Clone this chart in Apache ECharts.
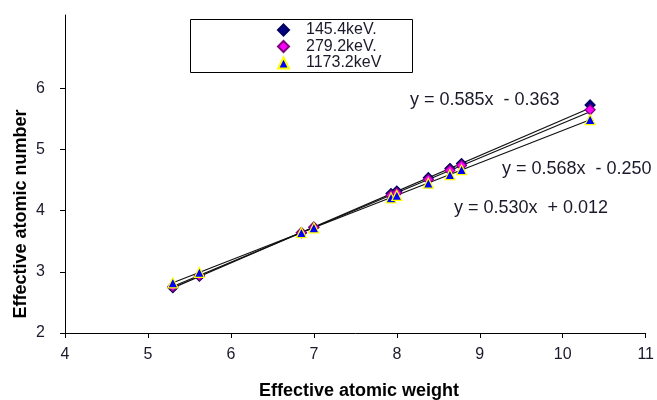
<!DOCTYPE html>
<html>
<head>
<meta charset="utf-8">
<script src="https://cdn.jsdelivr.net/npm/echarts@6/dist/echarts.min.js"></script>
<style>
html,body{margin:0;padding:0;background:#fff;}
#chart{width:657px;height:400px;}
</style>
</head>
<body>
<div id="chart"></div>
<script>
// Data
const seriesNames = ['145.4keV.', '279.2keV.', '1173.2keV'];
const weights = [5.30, 5.62, 6.85, 7.00, 7.93, 8.00, 8.38, 8.64, 8.78, 10.33];
const z145 = [2.74, 2.93, 3.64, 3.73, 4.28, 4.32, 4.54, 4.69, 4.77, 5.73];
const z279 = [2.76, 2.94, 3.64, 3.73, 4.25, 4.29, 4.51, 4.66, 4.74, 5.65];
const z1173 = [2.82, 2.99, 3.64, 3.72, 4.21, 4.25, 4.45, 4.59, 4.67, 5.49];
const slopes = [0.585, 0.568, 0.530];
const intercepts = [-0.363, -0.250, 0.012];
const equations = ['y = 0.585x  - 0.363', 'y = 0.568x  - 0.250', 'y = 0.530x  + 0.012'];
const xTicks = [4, 5, 6, 7, 8, 9, 10, 11];
const yTicks = [2, 3, 4, 5, 6];

const values = [z145, z279, z1173];
const markerSymbols = ['diamond', 'diamond', 'triangle'];
const markerFill = ['#000080', '#FF00FF', '#0000FF'];
const markerBorder = ['#000060', '#800080', '#FFFF00'];
const markerSize = [10, 10, 10];

const chart = echarts.init(document.getElementById('chart'));
const xmin = Math.min(...weights), xmax = Math.max(...weights);

const series = [];
// trendlines
slopes.forEach((a, i) => {
  series.push({
    type: 'line',
    name: 'trend' + i,
    data: [[xmin, a * xmin + intercepts[i]], [xmax, a * xmax + intercepts[i]]],
    symbol: 'none',
    lineStyle: { color: '#111', width: 1.2 },
    silent: true,
    z: 1,
    animation: false
  });
});
seriesNames.forEach((n, i) => {
  series.push({
    type: 'scatter',
    name: n,
    data: weights.map((w, j) => [w, values[i][j]]),
    symbol: markerSymbols[i],
    symbolSize: markerSize[i],
    itemStyle: { color: markerFill[i], borderColor: markerBorder[i], borderWidth: 1.2, opacity: 1 },
    z: 3 + i,
    animation: false
  });
});

const FONT = 'Liberation Sans, Arial, sans-serif';
const textStyle = { fontFamily: FONT, color: '#1a1a2a' };

chart.setOption({
  animation: false,
  grid: { left: 65, right: 9, top: 15, bottom: 67, containLabel: false },
  legend: {
    data: seriesNames,
    orient: 'vertical',
    left: 277,
    top: 22,
    padding: 0,
    itemGap: 0.5,
    itemWidth: 11,
    itemHeight: 11,
    textStyle: Object.assign({ fontSize: 16, lineHeight: 16, padding: [0, 0, 0, 12] }, textStyle)
  },
  xAxis: {
    type: 'value', min: 4, max: 11, interval: 1,
    axisLine: { show: true, onZero: false, lineStyle: { color: '#000', width: 1 } },
    axisTick: { show: true, length: 5, inside: false, lineStyle: { color: '#000' } },
    axisLabel: Object.assign({ fontSize: 16, margin: 14 }, textStyle),
    splitLine: { show: false }
  },
  yAxis: {
    type: 'value', min: 2, max: 7.2,
    axisLine: { show: true, onZero: false, lineStyle: { color: '#000', width: 1 } },
    axisTick: { show: true, length: 5, inside: false, customValues: yTicks, lineStyle: { color: '#000' } },
    axisLabel: Object.assign({ fontSize: 16, margin: 20, customValues: yTicks }, textStyle),
    splitLine: { show: false }
  },
  graphic: [
    { type: 'rect', shape: { x: 190.5, y: 19.5, width: 222, height: 53 }, style: { fill: 'none', stroke: '#000', lineWidth: 1 }, z: 0 },
    { type: 'text', x: 359, y: 391, style: { text: 'Effective atomic weight', font: 'bold 18px ' + FONT, fill: '#000', align: 'center', verticalAlign: 'middle' } },
    { type: 'text', x: 21, y: 214, rotation: Math.PI / 2, style: { text: 'Effective atomic number', font: 'bold 18px ' + FONT, fill: '#000', align: 'center', verticalAlign: 'middle' } },
    { type: 'text', x: 410, y: 100, style: { text: equations[0], font: '18px ' + FONT, fill: '#1a1a2a', verticalAlign: 'middle' } },
    { type: 'text', x: 502, y: 169, style: { text: equations[1], font: '18px ' + FONT, fill: '#1a1a2a', verticalAlign: 'middle' } },
    { type: 'text', x: 454, y: 208, style: { text: equations[2], font: '18px ' + FONT, fill: '#1a1a2a', verticalAlign: 'middle' } }
  ],
  series: series
});
</script>
</body>
</html>
